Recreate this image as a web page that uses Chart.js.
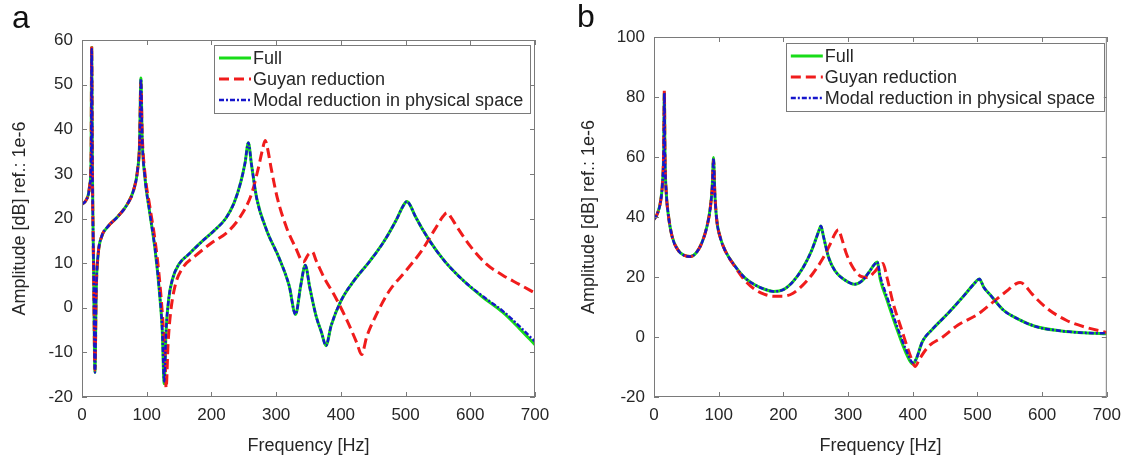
<!DOCTYPE html>
<html>
<head>
<meta charset="utf-8">
<script src="https://cdn.jsdelivr.net/npm/chart.js@4.4.1/dist/chart.umd.min.js"></script>
<style>
  body { margin: 0; background: #fff; width: 1129px; height: 460px; position: relative; overflow: hidden; font-family: "Liberation Sans", Arial, sans-serif; }
  .panel { position: absolute; top: 0; height: 460px; }
  .panel canvas { display: block; }
  .tag { position: absolute; font-size: 32px; line-height: 1; color: #111; }
</style>
</head>
<body>
<div class="panel" style="left:0;width:565px"><canvas id="chartA" width="565" height="460"></canvas></div>
<div class="panel" style="left:565px;width:564px"><canvas id="chartB" width="564" height="460"></canvas></div>
<div class="tag" style="left:12px;top:1px">a</div>
<div class="tag" style="left:577px;top:0px">b</div>
<script>
const xLabel = "Frequency [Hz]";
const yLabel = "Amplitude [dB] ref.: 1e-6";
const seriesNames = ["Full", "Guyan reduction", "Modal reduction in physical space"];
const xTickValues = [0, 100, 200, 300, 400, 500, 600, 700];
const yTicksA = [-20, -10, 0, 10, 20, 30, 40, 50, 60];
const yTicksB = [-20, 0, 20, 40, 60, 80, 100];

// panel a: Full and Modal share one frequency grid, Guyan has its own
const freqA = [0, 5, 10, 12, 14, 15, 16, 18, 20, 22, 25, 30, 40, 55, 70, 80, 86, 89, 91, 93, 97, 105, 113, 120, 124, 127, 130, 134, 140, 150, 165, 185, 205, 222, 235, 245, 252, 257, 262, 270, 285, 305, 320, 330, 338, 345, 352, 362, 370, 377, 385, 400, 420, 445, 465, 485, 497, 502, 507, 515, 535, 560, 590, 620, 650, 675, 700];
const fullA = [23.2, 23.8, 25.5, 27.5, 33, 58.3, 32, 8, -14.5, 4, 12, 15.8, 18.2, 20.4, 23.2, 26.5, 31, 37, 51.5, 38, 29.5, 21, 13, 3, -5, -17, -5, 2, 6.5, 9.8, 12, 14.8, 17.4, 20, 23.5, 28, 32.5, 37, 32, 24.5, 17.5, 11, 5, -1.5, 5, 9.5, 4.5, -2, -5.5, -8.5, -4, 1.5, 6, 10.5, 14.5, 19.5, 23, 23.8, 23, 20.5, 15.5, 10.5, 6, 2.3, -1, -4.5, -8.3];
const modalA = [23.2, 23.8, 25.5, 27.5, 33, 58, 32, 8, -14.5, 4, 12, 15.8, 18.2, 20.4, 23.2, 26.5, 31, 37, 51.3, 38, 29.5, 21, 13, 3, -5, -16.5, -5, 2, 6.5, 9.8, 12, 14.8, 17.4, 20, 23.5, 28, 32.5, 37, 32, 24.5, 17.5, 11, 5, -1.5, 5, 9.5, 4.5, -2, -5.5, -8.5, -4, 1.5, 6, 10.5, 14.5, 19.5, 23, 23.8, 23, 20.5, 15.5, 10.5, 6, 2.5, -0.7, -4, -7.6];
const freqGA = [0, 5, 10, 12, 14, 15, 16, 18, 20, 22, 25, 30, 40, 55, 70, 80, 86, 89, 91, 93, 97, 105, 113, 120, 125, 128, 130, 133, 137, 144, 155, 175, 200, 225, 245, 262, 272, 279, 283, 287, 292, 302, 316, 330, 342, 350, 356, 362, 375, 390, 410, 425, 432, 440, 455, 475, 500, 525, 545, 558, 564, 570, 580, 600, 625, 650, 675, 700];
const guyanA = [23.2, 23.8, 25.5, 27.5, 33, 58.6, 32, 8, -14, 4, 12, 15.8, 18.2, 20.4, 23.2, 26.5, 31, 37, 50.5, 39, 30.5, 22.5, 15, 6, -3, -10, -18, -8, -1, 5, 8.8, 11.6, 14.5, 17, 20.5, 25.5, 31, 35.5, 37.5, 35.5, 31.5, 24.5, 18, 13.5, 10.3, 12, 12.5, 10.5, 6.5, 2.8, -3, -8, -10.5, -6.5, -1.5, 3.8, 8.2, 12.8, 17.5, 20.5, 21.3, 20.3, 18, 13.8, 9.8, 7.3, 5.3, 3.3];

// panel b
const freqB = [0, 5, 10, 13, 15, 16, 17, 19, 22, 28, 38, 47, 56, 65, 74, 82, 87, 90, 92, 94, 97, 102, 110, 125, 140, 155, 170, 185, 200, 215, 230, 243, 250, 255, 258, 262, 270, 280, 295, 310, 322, 332, 340, 345, 350, 360, 375, 390, 400, 405, 415, 430, 455, 480, 495, 503, 510, 520, 540, 560, 590, 630, 665, 700];
const fullB = [39.2, 41, 45, 51, 62, 81.5, 60, 48, 41, 33.5, 28.7, 27.2, 26.8, 28, 31.4, 37, 43, 50, 59.8, 48, 39, 33.5, 28.8, 23.7, 19.8, 17.5, 16, 15.2, 15.8, 18.5, 23, 28.5, 32.5, 35.5, 37, 33.5, 26.5, 22, 19, 17.6, 18.8, 21.5, 24, 25, 19, 12.5, 3, -5.5, -9, -7.5, -1.5, 2.5, 8, 14, 17.8, 19.3, 16.5, 14, 9, 6.3, 3.5, 2, 1.4, 1.1];
const modalB = [39.2, 41, 45, 51, 62, 81.3, 60, 48, 41, 33.5, 28.7, 27.2, 26.8, 28, 31.4, 37, 43, 50, 59.6, 48, 39, 33.5, 28.8, 23.7, 19.8, 17.5, 16, 15.2, 15.8, 18.5, 23, 28.5, 32.5, 35.5, 37, 33.5, 26.5, 22, 19, 17.6, 18.8, 21.5, 24, 25, 20, 13.5, 4, -4.5, -8.5, -7.5, -1.5, 2.5, 8, 14, 17.8, 19.3, 16.5, 14, 9, 6.3, 3.5, 2, 1.4, 1.2];
const freqGB = [0, 5, 10, 13, 15, 16, 17, 19, 22, 28, 38, 47, 56, 65, 74, 82, 87, 90, 92, 94, 97, 102, 110, 125, 140, 155, 170, 185, 200, 215, 230, 245, 260, 272, 280, 285, 290, 297, 308, 320, 330, 340, 347, 354, 360, 370, 382, 395, 404, 410, 425, 445, 470, 500, 525, 548, 560, 566, 572, 585, 608, 638, 668, 700];
const guyanB = [39.2, 41, 45, 51, 63, 82.3, 60, 48, 41, 33.5, 28.7, 27.2, 26.8, 28, 31.4, 37, 43, 50, 59, 48, 39, 33.5, 28.8, 23.5, 19, 16, 14.3, 13.6, 13.6, 14.6, 17.3, 21, 25.8, 30.8, 34.5, 35.8, 33, 28, 23, 20.2, 19.8, 21.5, 23.3, 24.5, 20, 11, 3, -5.5, -9.8, -7.5, -3, -0.2, 4, 7.5, 11.8, 15.8, 17.8, 18.2, 17.5, 14.2, 9.5, 5.5, 3.2, 1.5];

const axisColor = "#7a7a7a";
const textColor = "#262626";
const fontFamily = "'Liberation Sans', Arial, sans-serif";

const pts = (xs, ys) => xs.map((x, i) => ({ x: x, y: ys[i] }));

// MATLAB-like box: frame, inward ticks on all sides, legend inside the axes
const boxAxes = {
  id: "boxAxes",
  afterDraw(chart, args, opts) {
    const { ctx, chartArea: a, scales } = chart;
    ctx.save();
    ctx.strokeStyle = axisColor;
    ctx.lineWidth = 1;
    ctx.setLineDash([]);
    ctx.strokeRect(a.left + 0.5, a.top + 0.5, a.width - 1, a.height - 1);
    ctx.beginPath();
    scales.x.ticks.forEach((t) => {
      const px = Math.round(scales.x.getPixelForValue(t.value)) + 0.5;
      ctx.moveTo(px, a.bottom); ctx.lineTo(px, a.bottom - 5);
      ctx.moveTo(px, a.top); ctx.lineTo(px, a.top + 5);
    });
    scales.y.ticks.forEach((t) => {
      const py = Math.round(scales.y.getPixelForValue(t.value)) + 0.5;
      ctx.moveTo(a.left, py); ctx.lineTo(a.left + 5, py);
      ctx.moveTo(a.right, py); ctx.lineTo(a.right - 5, py);
    });
    ctx.stroke();

    // legend
    const w = opts.legendWidth, h = 68;
    const lx = a.right - opts.legendRight - w;
    const ly = a.top + opts.legendTop;
    ctx.fillStyle = "#fff";
    ctx.fillRect(lx, ly, w, h);
    ctx.strokeRect(Math.round(lx) + 0.5, Math.round(ly) + 0.5, w, h);
    ctx.font = "18px " + fontFamily;
    ctx.textBaseline = "middle";
    chart.data.datasets.forEach((ds, i) => {
      const y = ly + 13 + i * 21;
      ctx.strokeStyle = ds.borderColor;
      ctx.lineWidth = ds.borderWidth;
      ctx.setLineDash(ds.borderDash || []);
      ctx.beginPath();
      ctx.moveTo(lx + 5, y);
      ctx.lineTo(lx + 37, y);
      ctx.stroke();
      ctx.fillStyle = textColor;
      ctx.fillText(ds.label, lx + 39, y + 1);
    });
    ctx.restore();
  },
};

function makeChart(id, p) {
  return new Chart(document.getElementById(id), {
    type: "line",
    data: {
      datasets: [
        { label: seriesNames[0], data: pts(p.freq, p.full), borderColor: "#18dc18", borderWidth: 3, order: 3 },
        { label: seriesNames[1], data: pts(p.freqG, p.guyan), borderColor: "#f01c1c", borderWidth: 3, borderDash: [10, 5], order: 2 },
        { label: seriesNames[2], data: pts(p.freq, p.modal), borderColor: "#1616cc", borderWidth: 2.5, borderDash: [5, 2, 2, 2], order: 1 },
      ],
    },
    options: {
      responsive: false,
      animation: false,
      layout: { padding: { left: 0, top: p.top, right: p.right, bottom: 0 } },
      elements: {
        point: { radius: 0 },
        line: { cubicInterpolationMode: "monotone", borderJoinStyle: "round", fill: false },
      },
      plugins: {
        legend: { display: false },
        tooltip: { enabled: false },
        boxAxes: { legendWidth: p.legendWidth, legendRight: p.legendRight, legendTop: p.legendTop },
      },
      scales: {
        x: {
          type: "linear",
          min: xTickValues[0],
          max: xTickValues[xTickValues.length - 1],
          afterBuildTicks: (s) => { s.ticks = xTickValues.map((v) => ({ value: v })); },
          afterFit: (s) => { s.height = 460 - p.bottom; },
          grid: { display: false, drawTicks: false },
          border: { display: false },
          ticks: { color: textColor, font: { size: 17, family: fontFamily }, padding: 8, maxRotation: 0 },
          title: { display: true, text: xLabel, color: textColor, font: { size: 18, family: fontFamily }, padding: { top: 0, bottom: 3 } },
        },
        y: {
          type: "linear",
          min: p.yTicks[0],
          max: p.yTicks[p.yTicks.length - 1],
          afterBuildTicks: (s) => { s.ticks = p.yTicks.map((v) => ({ value: v })); },
          afterFit: (s) => { s.width = p.left; },
          grid: { display: false, drawTicks: false },
          border: { display: false },
          ticks: { color: textColor, font: { size: 17, family: fontFamily }, padding: 9 },
          title: { display: true, text: yLabel, color: textColor, font: { size: 18, family: fontFamily }, padding: { top: p.titlePad, bottom: 0 } },
        },
      },
    },
    plugins: [boxAxes],
  });
}

makeChart("chartA", {
  freq: freqA, full: fullA, modal: modalA, freqG: freqGA, guyan: guyanA, yTicks: yTicksA,
  left: 82, top: 40, right: 30, bottom: 397, titlePad: 9,
  legendWidth: 316, legendRight: 5, legendTop: 5,
});
makeChart("chartB", {
  freq: freqB, full: fullB, modal: modalB, freqG: freqGB, guyan: guyanB, yTicks: yTicksB,
  left: 89, top: 37, right: 21, bottom: 397, titlePad: 13,
  legendWidth: 318, legendRight: 3, legendTop: 6,
});
</script>
</body>
</html>
